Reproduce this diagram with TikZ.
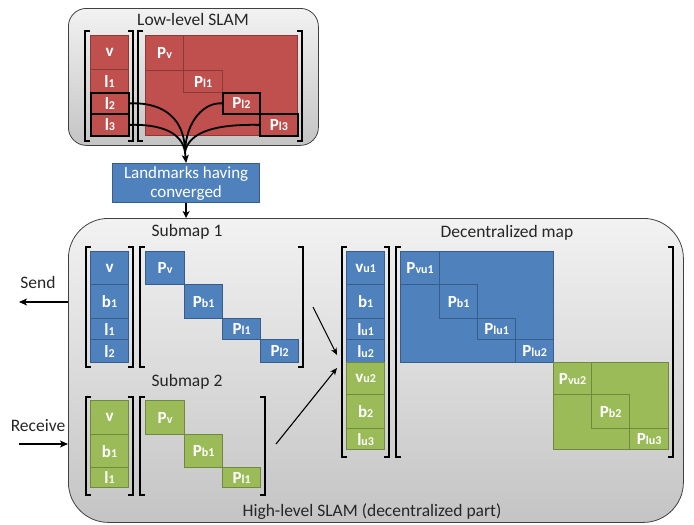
\documentclass[tikz,border=0pt]{standalone}
\usepackage{fontspec}
\setmainfont{Carlito}
\usetikzlibrary{arrows.meta}
\definecolor{rfill}{HTML}{C0504D}
\definecolor{rline}{HTML}{8C3836}
\definecolor{bfill}{HTML}{4F81BD}
\definecolor{bline}{HTML}{385D8A}
\definecolor{gfill}{HTML}{9BBB59}
\definecolor{gline}{HTML}{71893F}
\definecolor{ptop}{HTML}{F2F2F2}
\definecolor{pbot}{HTML}{C4C4C4}
\newcommand\sbx[1]{{\fontsize{12}{12}\selectfont #1}}
\tikzset{
 cell/.style={draw, line width=1.2pt, anchor=north west, inner sep=0pt, text=white,
   font=\fontsize{17}{17}\selectfont\bfseries},
 rc/.style={cell, fill=rfill, draw=rline},
 bc/.style={cell, fill=bfill, draw=bline},
 gc/.style={cell, fill=gfill, draw=gline},
 hilite/.style={draw=black, line width=1.8pt},
 brk/.style={line width=2.2pt, black},
 panel/.style={draw=black!75, line width=0.8pt, anchor=north west, top color=ptop, bottom color=pbot},
 ttl/.style={font=\fontsize{17.5}{17.5}\selectfont, text=black!85, inner sep=0pt},
 fat/.style={line width=1.8pt, -{Stealth[length=8pt,width=7pt,inset=2pt]}},
 mid/.style={line width=1.6pt, -{Stealth[length=7pt,width=7pt,inset=2pt]}},
 thin/.style={line width=1.1pt, -{Stealth[length=7pt,width=6pt,inset=2pt]}},
 curve/.style={line width=1.8pt}
}
\newcommand\lbrk[3]{\draw[brk] (#1+5,#2) -- (#1,#2) -- (#1,#3) -- (#1+5,#3);}
\newcommand\rbrk[3]{\draw[brk] (#1-5,#2) -- (#1,#2) -- (#1,#3) -- (#1-5,#3);}
\begin{document}
\begin{tikzpicture}[x=1pt,y=-1pt]
\useasboundingbox (0,0) rectangle (694,525);
% ---------------- Low-level SLAM
\node[panel, rounded corners=18pt, minimum width=250pt, minimum height=137pt] (low) at (68,8) {};
\node[ttl] (lowt) at (193,19) {Low-level SLAM};
\node[rc, minimum width=38pt, minimum height=34pt] (rv) at (90,35) {v};
\node[rc, minimum width=38pt, minimum height=23pt] (rl1) at (90,69) {l\sbx{1}};
\node[rc, hilite, minimum width=38pt, minimum height=21pt] (rl2) at (90,92) {l\sbx{2}};
\node[rc, hilite, minimum width=38pt, minimum height=22pt] (rl3) at (90,113) {l\sbx{3}};
\node[rc, minimum width=152pt, minimum height=100pt] (rM) at (145,35) {};
\node[rc, minimum width=38pt, minimum height=35pt] (rPv) at (145,35) {P\sbx{v}};
\node[rc, minimum width=39pt, minimum height=22pt] (rPl1) at (183,70) {P\sbx{l1}};
\node[rc, hilite, minimum width=37pt, minimum height=21pt] (rPl2) at (222,92) {P\sbx{l2}};
\node[rc, hilite, minimum width=38pt, minimum height=22pt] (rPl3) at (259,113) {P\sbx{l3}};
\lbrk{85}{31}{141} \rbrk{133}{31}{141}
\lbrk{138}{31}{141} \rbrk{302}{31}{141}
\coordinate (J) at (185,152);
\draw[curve] (rl2.east) .. controls (165,102) and (185,120) .. (J);
\draw[curve] (rl3.east) .. controls (160,124) and (182,132) .. (J);
\draw[curve] (rPl2.west) .. controls (205,102) and (186,120) .. (J);
\draw[curve] (rPl3.west) .. controls (215,124) and (189,132) .. (J);
% ---------------- Landmarks
\node[draw=bline, fill=bfill, line width=1.2pt, anchor=north west, minimum width=147pt, minimum height=39pt,
  inner sep=0pt, text=white, align=center, font=\fontsize{17}{19}\selectfont] (lm) at (112,163)
  {Landmarks having\\converged};
\draw[fat] (J) -- (lm.north);
% ---------------- High-level panel
\node[panel, rounded corners=40pt, minimum width=615pt, minimum height=304pt] (hi) at (68,218) {};
\draw[mid] (lm.south) -- (hi.north -| lm.south);
\node[ttl] (hlt) at (372,512) {High-level SLAM (decentralized part)};
% Submap 1
\node[ttl] (s1t) at (187,232) {Submap 1};
\node[bc, minimum width=38pt, minimum height=33pt] (s1v) at (90,251) {v};
\node[bc, minimum width=38pt, minimum height=34pt] (s1b) at (90,284) {b\sbx{1}};
\node[bc, minimum width=38pt, minimum height=21pt] (s1l1) at (90,318) {l\sbx{1}};
\node[bc, minimum width=38pt, minimum height=23pt] (s1l2) at (90,339) {l\sbx{2}};
\node[bc, minimum width=39pt, minimum height=33pt] (s1Pv) at (145,251) {P\sbx{v}};
\node[bc, minimum width=38pt, minimum height=34pt] (s1Pb) at (184,284) {P\sbx{b1}};
\node[bc, minimum width=38pt, minimum height=21pt] (s1Pl1) at (222,318) {P\sbx{l1}};
\node[bc, minimum width=38pt, minimum height=23pt] (s1Pl2) at (260,339) {P\sbx{l2}};
\lbrk{86}{247}{367} \rbrk{133}{247}{367}
\lbrk{140}{247}{367} \rbrk{303}{247}{367}
% Send
\node[ttl] (send) at (38,282) {Send};
\coordinate (sendA) at (68,302);
\coordinate (sendB) at (19,302);
\draw[fat] (sendA) -- (sendB);
% Submap 2
\node[ttl] (s2t) at (187,382) {Submap 2};
\node[gc, minimum width=38pt, minimum height=34pt] (s2v) at (90,400) {v};
\node[gc, minimum width=38pt, minimum height=33pt] (s2b) at (90,434) {b\sbx{1}};
\node[gc, minimum width=38pt, minimum height=20pt] (s2l1) at (90,467) {l\sbx{1}};
\node[gc, minimum width=39pt, minimum height=34pt] (s2Pv) at (145,400) {P\sbx{v}};
\node[gc, minimum width=38pt, minimum height=33pt] (s2Pb) at (184,434) {P\sbx{b1}};
\node[gc, minimum width=38pt, minimum height=20pt] (s2Pl1) at (222,467) {P\sbx{l1}};
\lbrk{86}{397}{495} \rbrk{133}{397}{495}
\lbrk{140}{397}{495} \rbrk{265}{397}{495}
% Receive
\node[ttl] (recv) at (38,426) {Receive};
\coordinate (recA) at (19,444);
\coordinate (recB) at (68,444);
\draw[fat] (recA) -- (recB);
% middle arrows
\coordinate (m1a) at (313,307);
\coordinate (m1b) at (337,355);
\coordinate (m2a) at (276,444);
\coordinate (m2b) at (337,368);
\draw[thin] (m1a) -- (m1b);
\draw[thin] (m2a) -- (m2b);
% Decentralized map
\node[ttl] (dt) at (507,233) {Decentralized map};
\node[bc, minimum width=38pt, minimum height=33pt] (dv1) at (346,251) {v\sbx{u1}};
\node[bc, minimum width=38pt, minimum height=34pt] (db1) at (346,284) {b\sbx{1}};
\node[bc, minimum width=38pt, minimum height=21pt] (dl1) at (346,318) {l\sbx{u1}};
\node[bc, minimum width=38pt, minimum height=23pt] (dl2) at (346,339) {l\sbx{u2}};
\node[gc, minimum width=38pt, minimum height=32pt] (dv2) at (346,362) {v\sbx{u2}};
\node[gc, minimum width=38pt, minimum height=34pt] (db2) at (346,394) {b\sbx{2}};
\node[gc, minimum width=38pt, minimum height=21pt] (dl3) at (346,428) {l\sbx{u3}};
\node[bc, minimum width=153pt, minimum height=111pt] (dB) at (400,251) {};
\node[bc, minimum width=39pt, minimum height=33pt] (dPv1) at (400,251) {P\sbx{vu1}};
\node[bc, minimum width=38pt, minimum height=34pt] (dPb1) at (439,284) {P\sbx{b1}};
\node[bc, minimum width=38pt, minimum height=21pt] (dPl1) at (477,318) {P\sbx{lu1}};
\node[bc, minimum width=38pt, minimum height=23pt] (dPl2) at (515,339) {P\sbx{lu2}};
\node[gc, minimum width=115pt, minimum height=87pt] (dG) at (553,362) {};
\node[gc, minimum width=38pt, minimum height=32pt] (dPv2) at (553,362) {P\sbx{vu2}};
\node[gc, minimum width=38pt, minimum height=34pt] (dPb2) at (591,394) {P\sbx{b2}};
\node[gc, minimum width=39pt, minimum height=21pt] (dPl3) at (629,428) {P\sbx{lu3}};
\lbrk{342}{247}{457} \rbrk{389}{247}{457}
\lbrk{396}{247}{457} \rbrk{673}{247}{457}
\end{tikzpicture}
\end{document}
